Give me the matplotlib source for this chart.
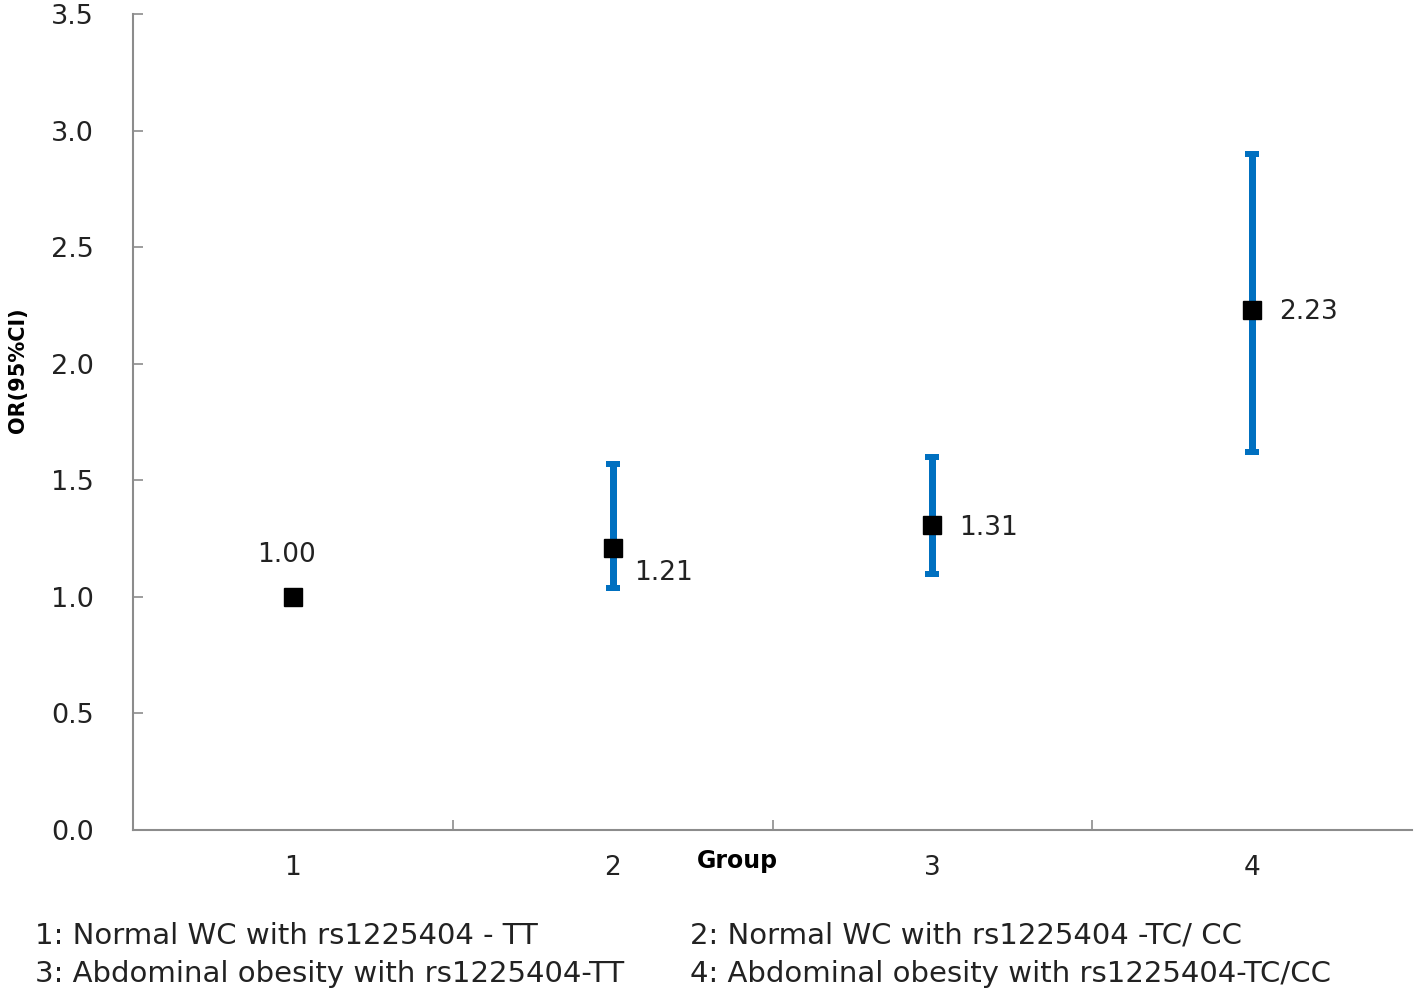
import numpy as np
import matplotlib.pyplot as plt

groups = [1, 2, 3, 4]
odds = [1.00, 1.21, 1.31, 2.23]
ci_low = [np.nan, 1.04, 1.10, 1.62]
ci_high = [np.nan, 1.57, 1.60, 2.90]
labels = ['1.00', '1.21', '1.31', '2.23']
# label offsets in pixels (dx, dy) from each point
offsets = [(-6, 42), (51, -25), (56, -3), (56, -2)]
notes = ['1: Normal WC with rs1225404 - TT', '2: Normal WC with rs1225404 -TC/ CC',
         '3: Abdominal obesity with rs1225404-TT', '4: Abdominal obesity with rs1225404-TC/CC']

dpi = 100
fig = plt.figure(figsize=(14.18, 9.94), dpi=dpi)
ax = fig.add_axes([133/1418, 164/994, 1279/1418, 816/994])
px = 72.0 / dpi

x = np.array(groups, dtype=float)
y = np.array(odds)
lo = np.array(ci_low)
hi = np.array(ci_high)
m = ~np.isnan(lo)
ax.errorbar(x[m], y[m], yerr=[y[m] - lo[m], hi[m] - y[m]], fmt='none',
            ecolor='#0070C0', elinewidth=7*px, capsize=7*px, capthick=6*px, zorder=2)
ax.plot(x, y, 's', color='black', markersize=18*px, zorder=3)

for xi, yi, lab, (dx, dy) in zip(x, y, labels, offsets):
    ax.annotate(lab, (xi, yi), xytext=(dx*px, dy*px), textcoords='offset points',
                ha='center', va='center', fontsize=19, color='#222222')

ax.set_xlim(0.5, 4.5)
ax.set_ylim(0, 3.5)
ax.set_yticks(np.arange(0, 3.51, 0.5))
ax.set_yticklabels([f'{v:.1f}' for v in np.arange(0, 3.51, 0.5)])
ax.set_xticks([1.5, 2.5, 3.5])
ax.set_xticklabels([])
for g in groups:
    ax.text(g, -0.165, str(g), ha='center', va='center', fontsize=19, color='#222222')

for s in ['top', 'right']:
    ax.spines[s].set_visible(False)
for s in ['left', 'bottom']:
    ax.spines[s].set_color('#8c8c8c')
    ax.spines[s].set_linewidth(1.5)
ax.tick_params(axis='both', direction='in', length=10*px, width=1.2, color='#8c8c8c',
               labelsize=19.5, labelcolor='#222222')
ax.tick_params(axis='y', pad=28)

fig.text(737/1418, 1 - 861/994, 'Group', ha='center', va='center', fontsize=17, fontweight='bold')
fig.text(18/1418, 1 - 370/994, 'OR(95%CI)', ha='center', va='center', rotation=90,
         fontsize=15, fontweight='bold')

fig.text(35/1418, 1 - 936/994, notes[0], ha='left', va='center', fontsize=21, color='#222222')
fig.text(690/1418, 1 - 936/994, notes[1], ha='left', va='center', fontsize=21, color='#222222')
fig.text(35/1418, 1 - 974/994, notes[2], ha='left', va='center', fontsize=21, color='#222222')
fig.text(690/1418, 1 - 974/994, notes[3], ha='left', va='center', fontsize=21, color='#222222')

fig.savefig('out.png', dpi=dpi)
